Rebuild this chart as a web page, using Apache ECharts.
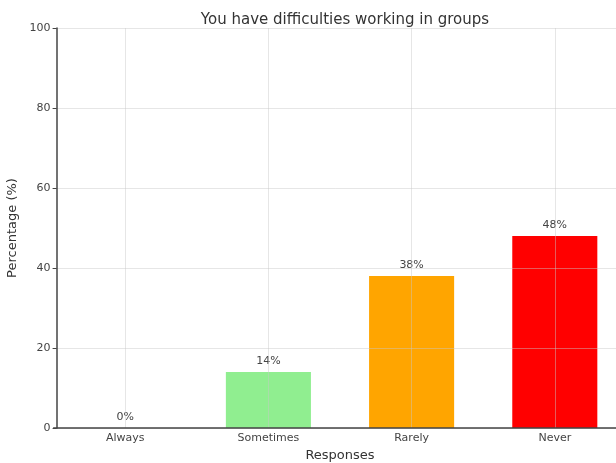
<!DOCTYPE html>
<html>
<head>
<meta charset="utf-8">
<script src="https://cdn.jsdelivr.net/npm/echarts@6/dist/echarts.min.js"></script>
<style>
  html, body { margin: 0; padding: 0; background: #fff; overflow: hidden; }
  #chart { width: 616px; height: 463px; }
</style>
</head>
<body>
<div id="chart"></div>
<script>
// Survey responses and their shares (%)
const categories = ['Always', 'Sometimes', 'Rarely', 'Never'];
const percentages = [0, 14, 38, 48];
const barColors = ['#87CEEB', '#90EE90', '#FFA500', '#FF0000'];
const yTicks = { min: 0, max: 100, interval: 20 };

const FONT = 'DejaVu Sans';
const GRID_LINE = 'rgba(200,200,200,0.45)';
const chart = echarts.init(document.getElementById('chart'));

chart.setOption({
  animation: false,
  textStyle: { fontFamily: FONT },
  title: {
    text: 'You have difficulties working in groups',
    left: 340, top: 8, textAlign: 'center',
    textStyle: { fontFamily: FONT, fontSize: 15, fontWeight: 'normal', color: '#333' }
  },
  // plot area runs past the right edge of the canvas; keep it unshrunk
  grid: {
    left: 53.6, top: 28, width: 572.8, height: 400,
    containLabel: false, outerBoundsMode: 'none'
  },
  xAxis: {
    type: 'category',
    data: categories,
    z: 3,
    name: 'Responses',
    nameLocation: 'middle',
    nameGap: 18,
    nameTextStyle: { fontFamily: FONT, fontSize: 13, color: '#333' },
    axisLine: { lineStyle: { color: '#444', width: 1.5 } },
    axisTick: { alignWithLabel: true, length: 4, lineStyle: { color: '#444' } },
    axisLabel: { fontFamily: FONT, fontSize: 11, color: '#444', margin: 5 },
    splitLine: { show: true, alignWithLabel: true, lineStyle: { color: GRID_LINE, width: 1 } }
  },
  yAxis: {
    type: 'value',
    min: yTicks.min, max: yTicks.max, interval: yTicks.interval,
    z: 3,
    offset: -3,
    name: 'Percentage (%)',
    nameLocation: 'middle',
    nameGap: 28,
    nameRotate: 90,
    nameTextStyle: { fontFamily: FONT, fontSize: 13, color: '#333' },
    axisLine: { show: true, lineStyle: { color: '#444', width: 1.5 } },
    axisTick: { show: true, length: 4, lineStyle: { color: '#444' } },
    axisLabel: { fontFamily: FONT, fontSize: 11, color: '#444', margin: 6 },
    splitLine: { show: true, lineStyle: { color: GRID_LINE, width: 1 } }
  },
  series: [{
    type: 'bar',
    barWidth: '59.4%',
    data: percentages.map((v, i) => ({ value: v, itemStyle: { color: barColors[i] } })),
    label: {
      show: true,
      position: 'top',
      distance: 5,
      formatter: p => p.value + '%',
      fontFamily: FONT, fontSize: 11, color: '#444'
    }
  }]
});
</script>
</body>
</html>
